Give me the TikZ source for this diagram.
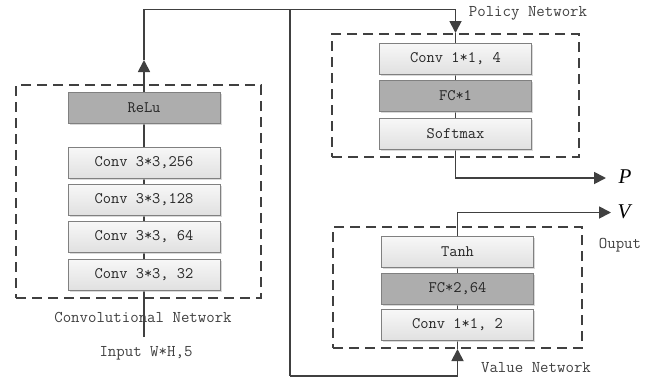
\documentclass[tikz,border=0pt]{standalone}
\usepackage{fontspec}
\setmainfont{Liberation Serif}
\usetikzlibrary{arrows.meta,shadows,backgrounds}
\begin{document}
\begin{tikzpicture}[x=1pt,y=-1pt,
  layer/.style={draw=black!50, line width=0.8pt, minimum width=152pt, minimum height=31pt, inner sep=0pt,
    font=\fontsize{16}{18}\selectfont\ttfamily, text=black!85,
    drop shadow={shadow xshift=1.5pt, shadow yshift=-1.5pt, fill=black!25, opacity=0.6}},
  light/.style={layer, top color=black!3, bottom color=black!12},
  dark/.style={layer, fill=black!32},
  group/.style={draw=black!75, line width=2pt, dash pattern=on 10pt off 6pt, inner sep=0pt},
  wire/.style={draw=black!75, line width=1.8pt},
  arr/.style={-{Triangle[length=12pt,width=12pt]}},
  lbl/.style={font=\fontsize{16.4}{18}\selectfont\ttfamily, text=black!75, inner sep=0pt},
  outl/.style={font=\fontsize{21}{23}\selectfont\itshape, inner sep=0pt}]
\useasboundingbox (0,0) rectangle (654,378);

% groups
\node[group, minimum width=245pt, minimum height=213pt] (convnet) at (138.5,191.5) {};
\node[group, minimum width=247pt, minimum height=123pt] (policy) at (455.5,95.5) {};
\node[group, minimum width=249pt, minimum height=121pt] (value) at (457.5,287.5) {};

% convolutional stack
\node[dark]  (relu) at (144,108)   {ReLu};
\node[light] (c256) at (144,162.5) {Conv 3*3,256};
\node[light] (c128) at (144,199.5) {Conv 3*3,128};
\node[light] (c64)  at (144,237)   {Conv 3*3, 64};
\node[light] (c32)  at (144,274.5) {Conv 3*3, 32};

% policy stack
\node[light] (pconv) at (455.5,58.7)  {Conv 1*1, 4};
\node[dark]  (pfc)   at (455.5,96)    {FC*1};
\node[light] (soft)  at (455.5,133.7) {Softmax};

% value stack
\node[light] (tanh)  at (457.5,251.7) {Tanh};
\node[dark]  (vfc)   at (457.5,289)   {FC*2,64};
\node[light] (vconv) at (457.5,325)   {Conv 1*1, 2};

% labels
\node[lbl] (convlbl) at (143,317) {Convolutional Network};
\node[lbl] (input)   at (146,353) {Input W*H,5};
\node[lbl] (pollbl)  at (528,13)  {Policy Network};
\node[lbl] (vallbl)  at (536,368) {Value Network};
\node[lbl] (outlbl)  at (620,245) {Ouput};
\node[outl] (P) at (625,177) {P};
\node[outl] (V) at (624,212) {V};

% coordinates
\coordinate (inbot) at (144,337);
\coordinate (uptip) at (144,60);
\coordinate (topL) at (144,9.5);
\coordinate (split) at (290,9.5);
\coordinate (topR) at (455.5,9.5);
\coordinate (botL) at (290,376);
\coordinate (botR) at (457.5,376);
\coordinate (pout) at (455.5,178);
\coordinate (pend) at (606,178);
\coordinate (vout) at (457.5,212.5);
\coordinate (vend) at (611,212.5);

\begin{pgfonlayer}{background}
  \draw[wire, arr] (inbot) -- (uptip);
  \draw[wire] (uptip) -- (topL) -- (split);
  \draw[wire, arr] (split) -- (topR) -- (policy.north);
  \draw[wire] (policy.north) -- (soft.south);
  \draw[wire, arr] (soft.south) -- (pout) -- (pend);
  \draw[wire] (split) -- (botL);
  \draw[wire, arr] (botL) -- (botR) -- (value.south);
  \draw[wire] (value.south) -- (tanh.north);
  \draw[wire, arr] (tanh.north) -- (vout) -- (vend);
\end{pgfonlayer}
\end{tikzpicture}
\end{document}
